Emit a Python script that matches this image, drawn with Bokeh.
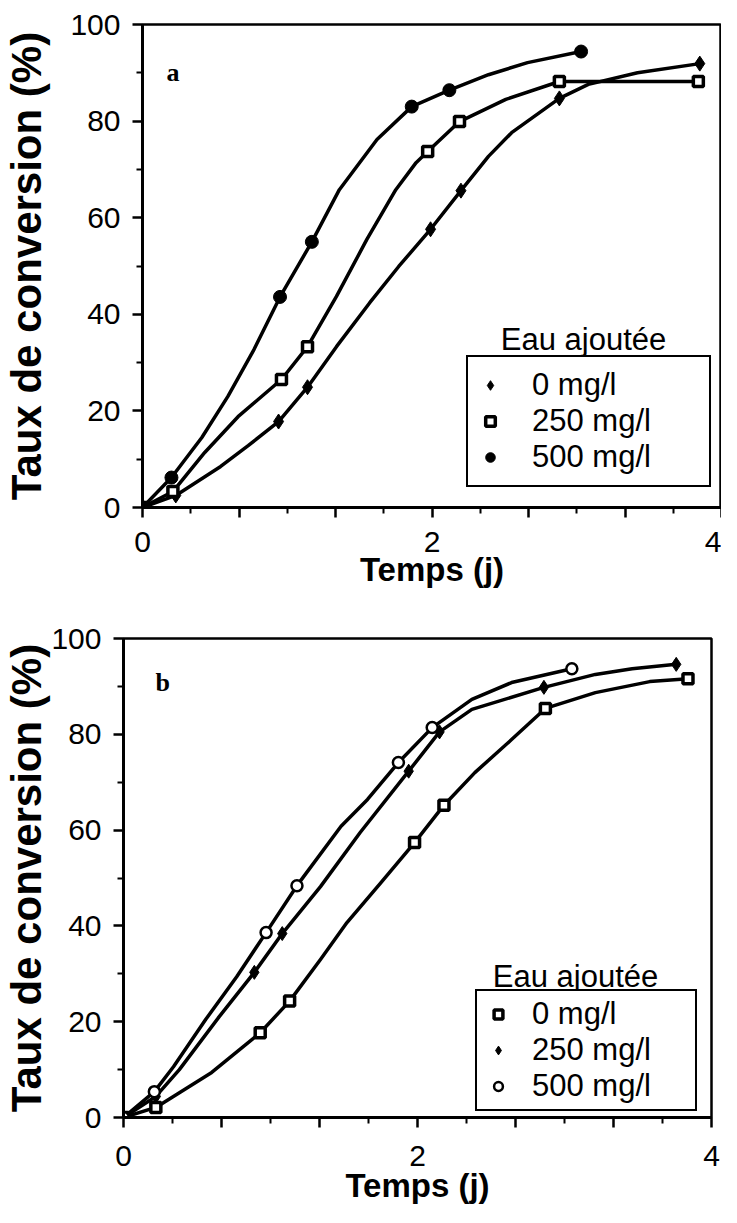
from bokeh.plotting import figure
from bokeh.layouts import column
from bokeh.models import FixedTicker, CustomJSTickFormatter, Legend, LegendItem, Label
from bokeh.embed import file_html
from bokeh.resources import INLINE

# ---------------- data ----------------
x_title = "Temps (j)"
y_title = "Taux de conversion (%)"
legend_title = "Eau ajoutée"
series_labels = ["0 mg/l", "250 mg/l", "500 mg/l"]
x_major_ticks = [0, 2 / 3, 4 / 3, 2, 8 / 3, 10 / 3, 4]
x_minor_ticks = [1 / 3, 1, 5 / 3, 7 / 3, 3, 11 / 3]
y_major_ticks = [0, 20, 40, 60, 80, 100]
y_minor_ticks = [10, 30, 50, 70, 90]

# Panel a : measured points
a0_pts_t = [0, 0.23, 0.94, 1.14, 1.99, 2.20, 2.88, 3.85]
a0_pts_y = [0, 2.5, 17.8, 24.9, 57.6, 65.6, 84.7, 91.9]
a250_pts_t = [0, 0.21, 0.96, 1.14, 1.97, 2.19, 2.88, 3.84]
a250_pts_y = [0, 3.3, 26.5, 33.3, 73.7, 79.9, 88.2, 88.2]
a500_pts_t = [0, 0.20, 0.95, 1.17, 1.86, 2.12, 3.03]
a500_pts_y = [0, 6.2, 43.6, 55.0, 83.0, 86.4, 94.4]
# Panel a : traced curves
a0_curve_t = [0, 0.23, 0.54, 0.73, 0.94, 1.14, 1.34, 1.57, 1.77, 1.99, 2.20, 2.39, 2.55, 2.88, 3.08, 3.42, 3.85]
a0_curve_y = [0, 2.5, 8.5, 12.8, 17.8, 24.9, 33.3, 42.4, 49.9, 57.6, 65.6, 72.7, 77.6, 84.7, 87.6, 90.0, 91.9]
a250_curve_t = [0, 0.21, 0.43, 0.66, 0.96, 1.14, 1.34, 1.55, 1.75, 1.89, 1.97, 2.19, 2.51, 2.88, 3.84]
a250_curve_y = [0, 3.3, 11.4, 18.8, 26.5, 33.3, 43.7, 55.5, 65.8, 71.4, 73.7, 79.9, 84.5, 88.2, 88.2]
a500_curve_t = [0, 0.20, 0.41, 0.59, 0.77, 0.95, 1.17, 1.36, 1.62, 1.86, 2.12, 2.39, 2.66, 3.03]
a500_curve_y = [0, 6.2, 14.5, 23.0, 32.7, 43.6, 55.0, 65.8, 76.2, 83.0, 86.4, 89.6, 92.1, 94.4]

# Panel b : measured points
b0_pts_t = [0, 0.22, 0.93, 1.13, 1.98, 2.18, 2.87, 3.84]
b0_pts_y = [0, 2.1, 17.7, 24.3, 57.4, 65.2, 85.4, 91.6]
b250_pts_t = [0, 0.22, 0.89, 1.08, 1.94, 2.15, 2.86, 3.76]
b250_pts_y = [0, 4.4, 30.3, 38.4, 72.3, 80.5, 89.8, 94.6]
b500_pts_t = [0, 0.21, 0.97, 1.18, 1.87, 2.10, 3.05]
b500_pts_y = [0, 5.4, 38.6, 48.4, 74.1, 81.4, 93.7]
# Panel b : traced curves
b0_curve_t = [0, 0.22, 0.60, 0.93, 1.13, 1.34, 1.52, 1.75, 1.98, 2.18, 2.39, 2.64, 2.87, 3.21, 3.58, 3.84]
b0_curve_y = [0, 2.1, 9.4, 17.7, 24.3, 33.0, 40.7, 49.0, 57.4, 65.2, 72.0, 78.9, 85.4, 88.7, 91.0, 91.6]
b250_curve_t = [0, 0.22, 0.38, 0.65, 0.89, 1.08, 1.34, 1.61, 1.94, 2.15, 2.37, 2.86, 3.21, 3.46, 3.76]
b250_curve_y = [0, 4.4, 10.0, 21.0, 30.3, 38.4, 48.2, 59.5, 72.3, 80.5, 85.2, 89.8, 92.5, 93.7, 94.6]
b500_curve_t = [0, 0.21, 0.34, 0.56, 0.77, 0.97, 1.18, 1.48, 1.66, 1.87, 2.10, 2.37, 2.64, 3.05]
b500_curve_y = [0, 5.4, 10.6, 20.5, 29.4, 38.6, 48.4, 60.8, 66.4, 74.1, 81.4, 87.3, 90.8, 93.7]

FONT = "Liberation Sans"
W = 721


def make_fig(height, mbl, mbr, mbt, mbb, tick_std, ylab_std, xtick_std, xlab_std):
    p = figure(width=W, height=height, x_range=(0, 4), y_range=(0, 100),
               output_backend="svg", toolbar_location=None,
               min_border_left=mbl, min_border_right=mbr,
               min_border_top=mbt, min_border_bottom=mbb,
               background_fill_color="white", border_fill_color="white")
    p.frame_align = False
    p.grid.visible = False
    p.outline_line_color = "black"
    p.outline_line_width = 2.5
    p.outline_line_alpha = 1.0

    xa = p.xaxis[0]
    xa.ticker = FixedTicker(ticks=x_major_ticks, minor_ticks=x_minor_ticks)
    xa.formatter = CustomJSTickFormatter(
        code="return Math.abs(tick/2 - Math.round(tick/2)) < 1e-6 ? tick.toFixed(0) : '';")
    xa.axis_label = x_title
    xa.major_label_standoff = xtick_std
    xa.axis_label_standoff = xlab_std

    ya = p.yaxis[0]
    ya.ticker = FixedTicker(ticks=y_major_ticks, minor_ticks=y_minor_ticks)
    ya.axis_label = y_title
    ya.major_label_standoff = tick_std
    ya.axis_label_standoff = ylab_std

    for ax in (xa, ya):
        ax.axis_line_color = "black"
        ax.axis_line_width = 3
        ax.major_tick_line_color = "black"
        ax.major_tick_line_width = 2.5
        ax.minor_tick_line_color = "black"
        ax.minor_tick_line_width = 2
        ax.major_tick_in = 0
        ax.minor_tick_in = 0
        ax.major_tick_out = 10
        ax.minor_tick_out = 6
        ax.major_label_text_font = FONT
        ax.major_label_text_font_size = "30px"
        ax.major_label_text_color = "black"
        ax.axis_label_text_font = FONT
        ax.axis_label_text_font_style = "bold"
        ax.axis_label_text_color = "black"
    xa.axis_label_text_font_size = "33px"
    ya.axis_label_text_font_size = "42px"
    return p


def add_series(p, curve_t, curve_y, pts_t, pts_y, marker, size, fill, lw):
    p.line(curve_t, curve_y, line_color="black", line_width=3.5, line_join="round")
    return p.scatter(pts_t, pts_y, marker=marker, size=size, fill_color=fill,
                     line_color="black", line_width=lw)


def add_legend(p, renderers, loc, padding, label_h, glyph_w, glyph_h, standoff, label_w,
               title_xy, tag, tag_xy):
    leg = Legend(items=[LegendItem(label=lab, renderers=[r]) for lab, r in zip(series_labels, renderers)],
                 location=loc, orientation="vertical", margin=0, padding=padding, spacing=0,
                 label_height=label_h, label_width=label_w, glyph_width=glyph_w, glyph_height=glyph_h,
                 label_standoff=standoff, label_text_font=FONT, label_text_font_size="31px",
                 label_text_color="black", border_line_color="black", border_line_width=2.5,
                 border_line_alpha=1.0, background_fill_color="white", background_fill_alpha=1.0)
    p.add_layout(leg)
    p.add_layout(Label(x=title_xy[0], y=title_xy[1], x_units="screen", y_units="screen",
                       text=legend_title, text_align="center", text_baseline="alphabetic",
                       text_font=FONT, text_font_size="31px", text_color="black"))
    p.add_layout(Label(x=tag_xy[0], y=tag_xy[1], x_units="screen", y_units="screen",
                       text=tag, text_align="left", text_baseline="alphabetic",
                       text_font="Liberation Serif", text_font_size="26px",
                       text_font_style="bold", text_color="black"))


# ---------------- panel a ----------------
pa = make_fig(597, 136, 0, 24, 90, 12, 17, 14, -4)
ra0 = add_series(pa, a0_curve_t, a0_curve_y, a0_pts_t, a0_pts_y, "diamond", 15, "black", 1)
ra250 = add_series(pa, a250_curve_t, a250_curve_y, a250_pts_t, a250_pts_y, "square", 10, "white", 3.5)
ra500 = add_series(pa, a500_curve_t, a500_curve_y, a500_pts_t, a500_pts_y, "circle", 13, "black", 1)
add_legend(pa, [ra0, ra250, ra500], (324, 20), 10, 36, 24, 24, 30, 167,
           (441, 168), "a", (24, 435))

# ---------------- panel b ----------------
pb = make_fig(616, 117, 10, 41, 96, 12, -2, 18, -2)
rb0 = add_series(pb, b0_curve_t, b0_curve_y, b0_pts_t, b0_pts_y, "square", 10, "white", 3.5)
rb250 = add_series(pb, b250_curve_t, b250_curve_y, b250_pts_t, b250_pts_y, "diamond", 14, "black", 1)
rb500 = add_series(pb, b500_curve_t, b500_curve_y, b500_pts_t, b500_pts_y, "circle", 11, "white", 2.5)
add_legend(pb, [rb0, rb250, rb500], (352, 6), 5, 34, 32, 22, 18, 158,
           (452, 141), "b", (32, 435))

layout = column(pa, pb)
open("out.html", "w").write(file_html(layout, INLINE))
